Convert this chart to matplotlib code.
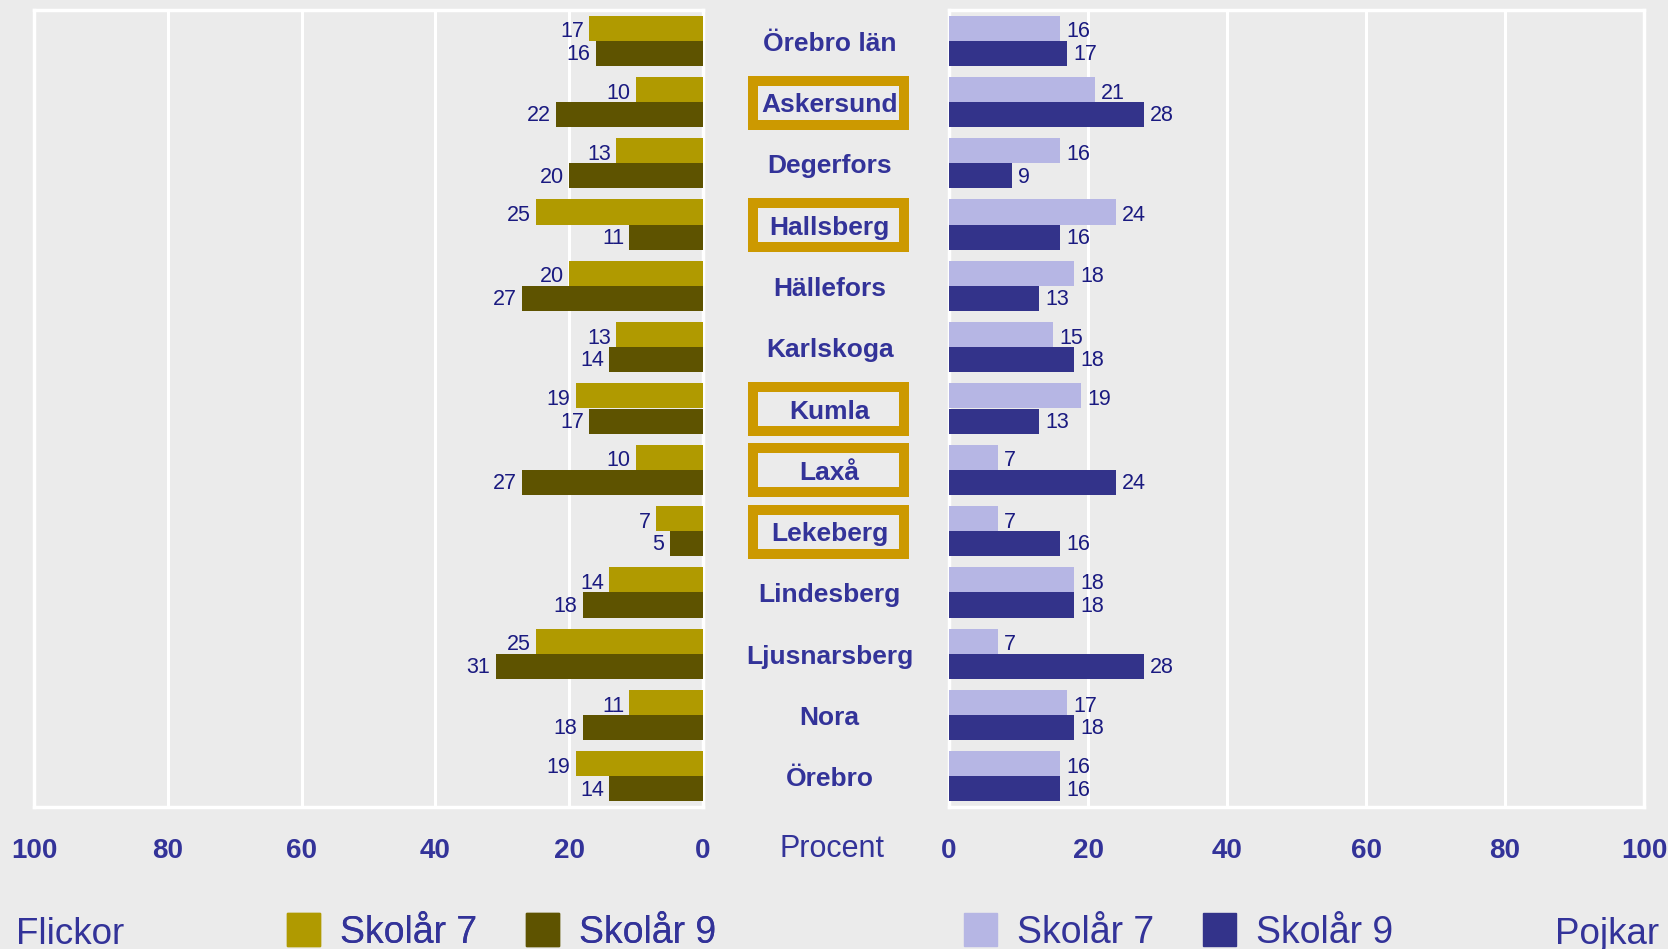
import matplotlib
matplotlib.use("Agg")
import matplotlib.pyplot as plt
from matplotlib.patches import Rectangle, Patch

plt.rcParams['font.family'] = ['Liberation Sans', 'DejaVu Sans']

kommuner = ["Örebro län", "Askersund", "Degerfors", "Hallsberg", "Hällefors",
            "Karlskoga", "Kumla", "Laxå", "Lekeberg", "Lindesberg",
            "Ljusnarsberg", "Nora", "Örebro"]
markerade = ["Askersund", "Hallsberg", "Kumla", "Laxå", "Lekeberg"]

flickor_ar7 = [17, 10, 13, 25, 20, 13, 19, 10, 7, 14, 25, 11, 19]
flickor_ar9 = [16, 22, 20, 11, 27, 14, 17, 27, 5, 18, 31, 18, 14]
pojkar_ar7 = [16, 21, 16, 24, 18, 15, 19, 7, 7, 18, 7, 17, 16]
pojkar_ar9 = [17, 28, 9, 16, 13, 18, 13, 24, 16, 18, 28, 18, 16]

ticks = [0, 20, 40, 60, 80, 100]

bg = "#EBEBEB"
text_col = "#333399"
num_col = "#1A1A80"
f7_col, f9_col = "#B09A00", "#5E5300"
p7_col, p9_col = "#B6B6E4", "#33338A"
box_col = "#CC9900"

W, H = 1668, 949
fig = plt.figure(figsize=(W / 100, H / 100), dpi=100, facecolor=bg)


def ax_rect(x0, x1, y0, y1):
    return [x0 / W, (H - y1) / H, (x1 - x0) / W, (y1 - y0) / H]


ax_l = fig.add_axes(ax_rect(34, 703, 10, 807))
ax_r = fig.add_axes(ax_rect(949, 1644, 10, 807))
ax_c = fig.add_axes(ax_rect(703, 949, 10, 807))

n = len(kommuner)
pos = list(range(n))
bh = 0.41

for ax in (ax_l, ax_r):
    ax.set_facecolor(bg)
    ax.set_ylim(n - 0.5, -0.5)
    ax.set_yticks([])
    ax.set_xticks(ticks)
    ax.set_xticklabels([str(t) for t in ticks], fontsize=20, fontweight="bold", color=text_col)
    ax.tick_params(axis="x", length=0, pad=22)
    ax.grid(axis="x", color="white", linewidth=2.2)
    ax.set_axisbelow(True)
    for s in ax.spines.values():
        s.set_color("white")
        s.set_linewidth(2.5)

ax_l.set_xlim(100, 0)
ax_r.set_xlim(0, 100)

y7 = [p - bh / 2 for p in pos]
y9 = [p + bh / 2 for p in pos]

ax_l.barh(y7, flickor_ar7, height=bh, color=f7_col, zorder=3)
ax_l.barh(y9, flickor_ar9, height=bh, color=f9_col, zorder=3)
ax_r.barh(y7, pojkar_ar7, height=bh, color=p7_col, zorder=3)
ax_r.barh(y9, pojkar_ar9, height=bh, color=p9_col, zorder=3)

for i in range(n):
    ax_l.text(flickor_ar7[i] + 0.8, y7[i] + 0.06, str(flickor_ar7[i]), ha="right", va="center",
              fontsize=15.5, color=num_col, zorder=4)
    ax_l.text(flickor_ar9[i] + 0.8, y9[i] + 0.02, str(flickor_ar9[i]), ha="right", va="center",
              fontsize=15.5, color=num_col, zorder=4)
    ax_r.text(pojkar_ar7[i] + 0.9, y7[i] + 0.06, str(pojkar_ar7[i]), ha="left", va="center",
              fontsize=15.5, color=num_col, zorder=4)
    ax_r.text(pojkar_ar9[i] + 0.9, y9[i] + 0.02, str(pojkar_ar9[i]), ha="left", va="center",
              fontsize=15.5, color=num_col, zorder=4)

# kommunnamn i mitten
ax_c.set_xlim(0, 1)
ax_c.set_ylim(n - 0.5, -0.5)
ax_c.axis("off")
for i, k in enumerate(kommuner):
    ax_c.text(0.515, i + 0.05, k, ha="center", va="center", fontsize=19,
              fontweight="bold", color=text_col)
    if k in markerade:
        ax_c.add_patch(Rectangle((0.205, i - 0.35), 0.614, 0.72, fill=False,
                                 edgecolor=box_col, linewidth=7.2))

fig.text(832 / W, (H - 849) / H, "Procent", ha="center", va="center", fontsize=22, color=text_col)

# legender
fig.text(16 / W, 5 / H, "Flickor", ha="left", va="baseline", fontsize=26.5, color=text_col)
fig.text(1659 / W, 5 / H, "Pojkar", ha="right", va="baseline", fontsize=26.5, color=text_col)

leg_kw = dict(frameon=False, ncol=2, fontsize=27, handlelength=0.87, handleheight=0.95,
              handletextpad=0.55, columnspacing=1.3, borderpad=0, borderaxespad=0,
              labelcolor=text_col, loc="center left")
leg1 = fig.legend(handles=[Patch(color=f7_col), Patch(color=f9_col)],
                  labels=["Skolår 7", "Skolår 9"], bbox_to_anchor=(287 / W, 17 / H), **leg_kw)
fig.add_artist(leg1)
fig.legend(handles=[Patch(color=p7_col), Patch(color=p9_col)],
           labels=["Skolår 7", "Skolår 9"], bbox_to_anchor=(964 / W, 17 / H), **leg_kw)

fig.savefig("out.png", dpi=100, facecolor=bg)
